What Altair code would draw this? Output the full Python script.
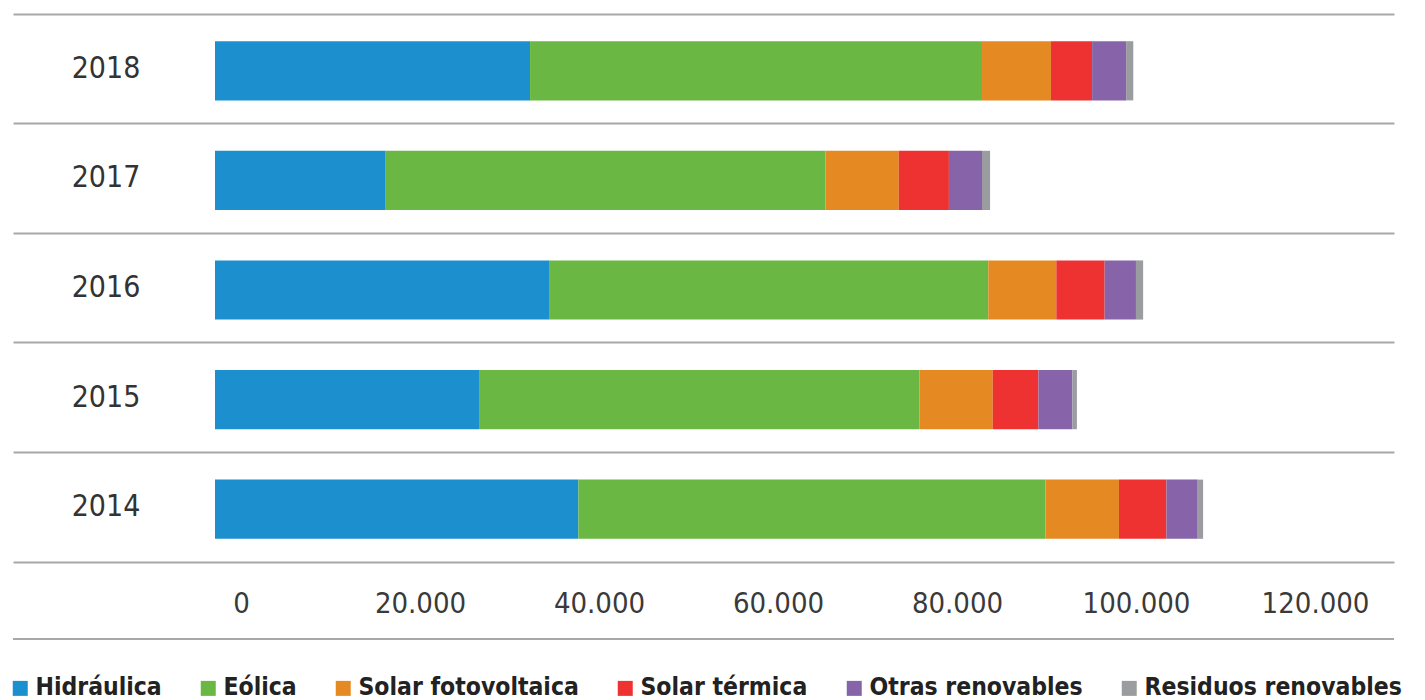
import altair as alt
import pandas as pd

years = ["2018", "2017", "2016", "2015", "2014"]
sources = ["Hidráulica", "Eólica", "Solar fotovoltaica", "Solar térmica",
           "Otras renovables", "Residuos renovables"]
colors = ["#1c8fce", "#6ab843", "#e58a23", "#ee3231", "#8764aa", "#9a9c9f"]

hidraulica = [35200, 19000, 37400, 29500, 40600]
eolica = [50500, 49200, 49000, 49200, 52200]
solar_fv = [7700, 8200, 7600, 8200, 8200]
solar_termica = [4600, 5600, 5400, 5100, 5300]
otras = [3800, 3700, 3500, 3800, 3500]
residuos = [800, 900, 800, 500, 600]

tick_values = [0, 20000, 40000, 60000, 80000, 100000, 120000]

series = [hidraulica, eolica, solar_fv, solar_termica, otras, residuos]
rows = []
for si, (name, vals) in enumerate(zip(sources, series)):
    for y, v in zip(years, vals):
        rows.append({"year": y, "source": name, "value": v, "order": si})
df = pd.DataFrame(rows)

W, H = 1381, 548
FONT = "DejaVu Sans Condensed, Liberation Sans Narrow, sans-serif"

y_enc = alt.Y("year:N", sort=years, title=None,
              scale=alt.Scale(paddingInner=0, paddingOuter=0),
              axis=alt.Axis(labels=False, ticks=False, domain=False, grid=True,
                            bandPosition=0, gridColor="#a8a8a8", gridWidth=2))

bars = alt.Chart(df).mark_bar(height={"band": 0.54}, yOffset=2).encode(
    x=alt.X("sum(value):Q", title=None,
            scale=alt.Scale(domain=[-22570, 131730], nice=False, zero=False),
            axis=alt.Axis(values=tick_values, grid=False, ticks=False, tickSize=0,
                          domain=True, domainColor="#a8a8a8", domainWidth=2,
                          labelOffset=26, labelPadding=41, labelBaseline="middle",
                          labelFont=FONT, labelFontSize=29, labelColor="#3a3a3a",
                          labelExpr="replace(format(datum.value, ','), ',', '.')")),
    y=y_enc,
    color=alt.Color("source:N", scale=alt.Scale(domain=sources, range=colors),
                    legend=alt.Legend(orient="none", legendX=-5, legendY=662,
                                      direction="horizontal", columns=6, title=None,
                                      symbolType="square", symbolSize=225,
                                      symbolStrokeWidth=0, symbolOpacity=1,
                                      labelFont=FONT, labelFontWeight="bold",
                                      labelFontSize=24.5, labelColor="#222222",
                                      labelLimit=0, labelOffset=3, columnPadding=34)),
    order=alt.Order("order:Q"),
)

year_df = pd.DataFrame({"year": years})
labels = alt.Chart(year_df).mark_text(
    align="center", baseline="middle", font=FONT, fontSize=30, color="#333333"
).encode(
    y=alt.Y("year:N", sort=years),
    x=alt.value(93),
    text="year:N",
)

bottom_rule = alt.Chart(pd.DataFrame({"k": [0]})).mark_rule(
    color="#a8a8a8", strokeWidth=2
).encode(x=alt.value(0), x2=alt.value(W), y=alt.value(625))

chart = alt.layer(bars, labels, bottom_rule).properties(
    width=W, height=H, padding={"left": 0, "top": 6, "right": 0, "bottom": 0}
).configure_view(stroke=None)

chart.save("out.html", embed_options={"renderer": "svg", "actions": False})
